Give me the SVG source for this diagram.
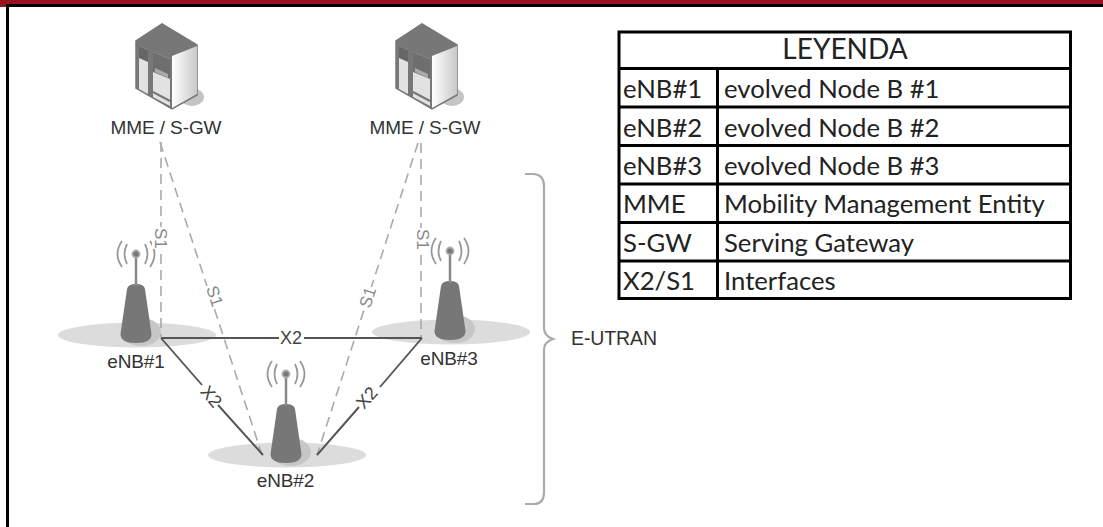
<svg xmlns="http://www.w3.org/2000/svg" width="1103" height="527" viewBox="0 0 1103 527">
<style>
text{font-family:"Liberation Sans",Arial,sans-serif}
.lbl{font-size:19px;fill:#333;letter-spacing:-.1px}
.s1{font-size:17px;fill:#888}
.x2{font-size:18px;fill:#444}
.dash{stroke:#aaa;stroke-width:1.6;stroke-dasharray:10 6;fill:none}
.solid{stroke:#555;stroke-width:1.9;fill:none}
.tbl{font-family:Lato,"Noto Sans",sans-serif;font-size:28px;fill:#222}
.cell{font-family:Lato,"Noto Sans",sans-serif;font-size:25.700px;fill:#222}
.grid{stroke:#000;stroke-width:3;fill:none}
.arc{fill:none;stroke:#999;stroke-width:1.8}
</style>
<defs>
<linearGradient id="side" x1="0" y1="0" x2="1" y2="0"><stop offset="0" stop-color="#fff"/><stop offset="1" stop-color="#c9c9c9"/></linearGradient>
<g id="tower">
<ellipse cx="1" cy="37" rx="79" ry="12.500" fill="#dcdcdc"/>
<ellipse cx="5" cy="34" rx="20" ry="14" fill="#c6c6c6"/>
<path d="M-9,-9Q-8,-14 0,-14Q8,-14 9,-9L15.500,36Q15.500,45 0,45Q-15.500,45 -15.500,36Z" fill="#777"/>
<line x1="0" y1="-42" x2="0" y2="-12" stroke="#888" stroke-width="2.500"/>
<circle cx="0" cy="-44" r="3.500" fill="#777" stroke="#aaa" stroke-width="1.800"/>
<path class="arc" d="M-9,-54Q-14,-44 -9,-34M9,-54Q14,-44 9,-34M-14,-57Q-23,-44 -14,-31M14,-57Q23,-44 14,-31"/>
</g>
<g id="server">
<ellipse cx="57" cy="73" rx="12" ry="9" fill="#c4c4c4"/>
<path d="M27,0L1,17L1,64L37,85L62,71L62,21Z" fill="#777" stroke="#777" stroke-width="1.500"/>
<path d="M37,32L62,22L62,70L37,84Z" fill="url(#side)"/>
<path d="M4,22L13,26L13,70L4,65Z" fill="#e2e2e2"/>
<path d="M4,22L13,26L13,38L4,34Z" fill="#666"/>
<path d="M18,28L35,35L35,82L18,73Z" fill="#e2e2e2"/>
<path d="M18,28L35,35L35,55L18,48Z" fill="#6e6e6e"/>
<path d="M20,44L33,50L33,54L20,48Z" fill="#aaa"/>
<path d="M18,68L35,77" stroke="#777" stroke-width="2"/>
</g>
</defs>
<rect width="1103" height="527" fill="#fff"/>
<g id="frame">
<rect x="0" y="0" width="1103" height="4" fill="#96131f"/>
<rect x="6" y="4" width="1097" height="3" fill="#000"/>
<rect x="0" y="0" width="6" height="7" fill="#96131f"/>
<rect x="6" y="4" width="3" height="523" fill="#000"/>
</g>
<g id="mme1"><use href="#server" x="135" y="24"/><text class="lbl" x="166" y="134" text-anchor="middle">MME / S-GW</text></g>
<g id="mme2"><use href="#server" x="395" y="24"/><text class="lbl" x="425" y="134" text-anchor="middle">MME / S-GW</text></g>
<g id="enb1"><use href="#tower" x="136" y="298"/><text class="lbl" x="136" y="368" text-anchor="middle">eNB#1</text></g>
<g id="enb2"><use href="#tower" x="286" y="418"/><text class="lbl" x="285.500" y="487" text-anchor="middle">eNB#2</text></g>
<g id="enb3"><use href="#tower" x="450" y="295"/><text class="lbl" x="449" y="365" text-anchor="middle">eNB#3</text></g>
<g id="connectors">
<line class="dash" x1="161" y1="142" x2="161" y2="337"/>
<line class="dash" x1="160" y1="142" x2="262" y2="455"/>
<line class="dash" x1="418" y1="143" x2="317" y2="455"/>
<line class="dash" x1="421" y1="143" x2="421" y2="337"/>
<line class="solid" x1="161" y1="338" x2="279" y2="338"/>
<line class="solid" x1="304" y1="338" x2="422" y2="338"/>
<line class="solid" x1="161" y1="338" x2="202" y2="385"/>
<line class="solid" x1="218" y1="405" x2="263" y2="455"/>
<line class="solid" x1="422" y1="338" x2="380" y2="387"/>
<line class="solid" x1="359" y1="407" x2="317" y2="455"/>
<rect x="152" y="227" width="20" height="22" fill="#fff"/>
<rect x="202" y="286" width="19" height="23" fill="#fff"/>
<rect x="358" y="287" width="18" height="23" fill="#fff"/>
<rect x="414" y="228" width="16" height="22" fill="#fff"/>
<text class="s1" transform="translate(155,228) rotate(90)">S1</text>
<text class="s1" transform="translate(206,288) rotate(72)">S1</text>
<text class="s1" transform="translate(370,309) rotate(-72)">S1</text>
<text class="s1" transform="translate(417,229) rotate(90)">S1</text>
<text class="x2" x="280" y="344">X2</text>
<text class="x2" transform="translate(199.500,392) rotate(50)">X2</text>
<text class="x2" transform="translate(364,410) rotate(-48)">X2</text>
</g>
<g id="brace">
<path d="M525,174H534Q544,175 544,186L544,328Q544,336 553,339Q544,342 544,350L544,492Q544,504 534,504H525" fill="none" stroke="#aaa" stroke-width="2.200"/>
<text class="lbl" x="571" y="345" style="fill:#333;font-size:19.500px">E-UTRAN</text>
</g>
<g id="legend">
<rect class="grid" x="619" y="32" width="451.500" height="266.500"/>
<path class="grid" d="M619,68.500H1070.500M619,107H1070.500M619,145.500H1070.500M619,184H1070.500M619,222.500H1070.500M619,261H1070.500M717.500,68.500V298.500"/>
<text class="tbl" x="845" y="59" text-anchor="middle">LEYENDA</text>
<text class="cell" x="623" y="98">eNB#1</text><text class="cell" x="724" y="98">evolved Node B #1</text>
<text class="cell" x="623" y="136.500">eNB#2</text><text class="cell" x="724" y="136.500">evolved Node B #2</text>
<text class="cell" x="623" y="175">eNB#3</text><text class="cell" x="724" y="175">evolved Node B #3</text>
<text class="cell" x="623" y="213">MME</text><text class="cell" x="724" y="213">Mobility Management Entity</text>
<text class="cell" x="623" y="251.500">S-GW</text><text class="cell" x="724" y="251.500">Serving Gateway</text>
<text class="cell" x="623" y="290">X2/S1</text><text class="cell" x="724" y="290">Interfaces</text>
</g>
</svg>
